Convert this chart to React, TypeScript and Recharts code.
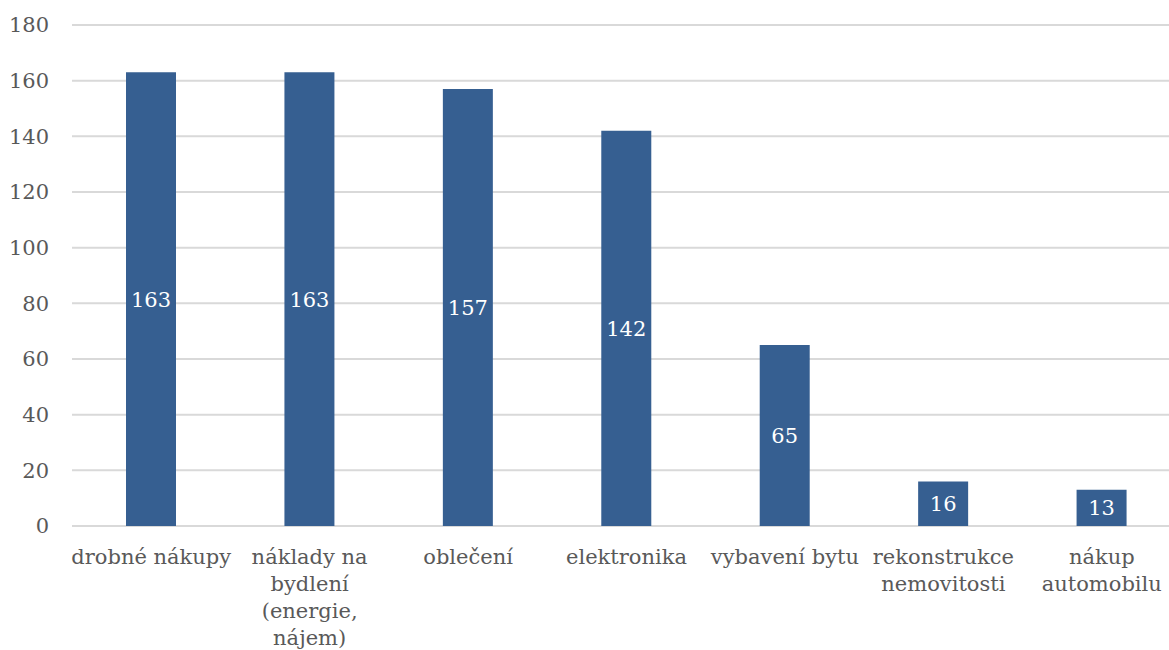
import { BarChart, Bar, XAxis, YAxis, CartesianGrid, LabelList } from 'recharts'

const categories = [
  'drobné nákupy',
  'náklady na\nbydlení\n(energie,\nnájem)',
  'oblečení',
  'elektronika',
  'vybavení bytu',
  'rekonstrukce\nnemovitosti',
  'nákup\nautomobilu',
]
const counts = [163, 163, 157, 142, 65, 16, 13]
const yTicks = [0, 20, 40, 60, 80, 100, 120, 140, 160, 180]

const data = categories.map((name, i) => ({ name, count: counts[i] }))

const FONT = '"DejaVu Serif", serif'
const TEXT = '#595959'

interface TickProps {
  x?: number
  y?: number
  payload?: { value: string }
}

function CategoryTick({ x = 0, y = 0, payload }: TickProps) {
  const lines = (payload?.value ?? '').split('\n')
  return (
    <text x={x} y={y} textAnchor="middle" fill={TEXT} fontFamily={FONT} fontSize={21}>
      {lines.map((line, i) => (
        <tspan key={i} x={x} dy={i === 0 ? 38 : 27}>
          {line}
        </tspan>
      ))}
    </text>
  )
}

export default function App() {
  return (
    <div
      style={{
        position: 'fixed',
        left: 0,
        top: 0,
        width: 1169,
        height: 650,
        overflow: 'hidden',
        background: '#fff',
      }}
    >
      <BarChart
        width={1182}
        height={650}
        data={data}
        margin={{ top: 25, right: 1, bottom: 0, left: 0 }}
      >
        <CartesianGrid vertical={false} stroke="#d9d9d9" strokeWidth={2} />
        <XAxis
          dataKey="name"
          height={124}
          axisLine={false}
          tickLine={false}
          tickSize={0}
          tickMargin={0}
          interval={0}
          tick={<CategoryTick />}
        />
        <YAxis
          width={72}
          domain={[0, 180]}
          ticks={yTicks}
          axisLine={false}
          tickLine={false}
          tickSize={0}
          tickMargin={23}
          tick={{ fill: TEXT, fontFamily: FONT, fontSize: 21 }}
        />
        <Bar dataKey="count" fill="#365F91" barSize={50} isAnimationActive={false}>
          <LabelList
            dataKey="count"
            position="center"
            fill="#ffffff"
            fontFamily={FONT}
            fontSize={21}
          />
        </Bar>
      </BarChart>
    </div>
  )
}
